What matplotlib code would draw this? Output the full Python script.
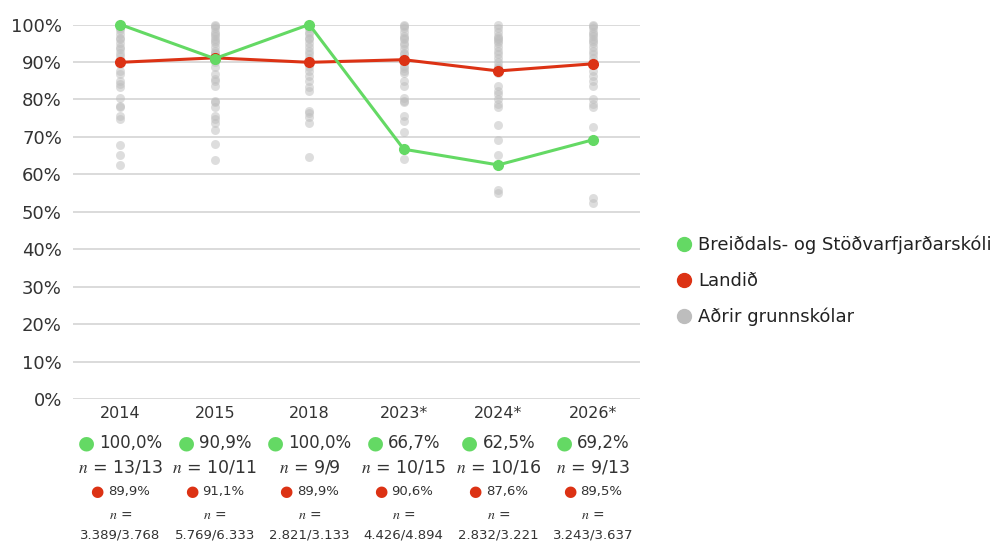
import matplotlib
matplotlib.use('Agg')
import matplotlib.pyplot as plt
import matplotlib.transforms as mtransforms
from matplotlib.lines import Line2D
from matplotlib.offsetbox import TextArea, HPacker, AnnotationBbox

years = ['2014', '2015', '2018', '2023*', '2024*', '2026*']
school = [100.0, 90.9, 100.0, 66.7, 62.5, 69.2]
school_n = ['13/13', '10/11', '9/9', '10/15', '10/16', '9/13']
national = [89.9, 91.1, 89.9, 90.6, 87.6, 89.5]
national_n = ['3.389/3.768', '5.769/6.333', '2.821/3.133', '4.426/4.894', '2.832/3.221', '3.243/3.637']

# other schools, one list per year
others = [
    [100, 99, 98.5, 97.5, 96.5, 96, 95, 94, 93.5, 92.5, 91.5, 90.5, 89.5, 87.7, 86.8, 85, 84.1,
     83.2, 80.5, 78.3, 77.9, 75.6, 74.7, 67.8, 65.1, 62.4],
    [100, 99.5, 99, 98, 97.5, 97, 96, 95.5, 95, 94, 93, 92.5, 92, 91, 90.5, 89.9, 88.6, 86.8,
     85.4, 85, 83.7, 79.6, 79.2, 77.9, 75.6, 74.7, 73.8, 71.9, 68.2, 63.8],
    [100, 99, 98, 97.5, 96.5, 96, 95, 94, 93, 92, 91, 89.5, 88.6, 87.7, 86.3, 85, 83.2, 82.3,
     77, 76.5, 75.2, 73.8, 64.6],
    [100, 99.5, 99, 98, 97, 96.5, 96, 95, 94.5, 93.5, 92.5, 92, 91, 90, 89, 88.5, 87.5, 87,
     85, 83.7, 80.5, 79.6, 79.2, 75.6, 74.3, 71.3, 64.2],
    [100, 99, 98, 97, 96.5, 96, 95.5, 95, 94, 93, 92, 91, 90, 89, 88.5, 88, 87, 83.7, 82.3,
     81.4, 80.1, 78.8, 77.9, 73.1, 69.2, 65.1, 55.9, 55.1],
    [100, 99.5, 99, 98, 97.5, 97, 96, 95.5, 95, 94, 93, 92, 91, 90, 89.5, 87.7, 86.3, 85, 83.7,
     80.1, 78.8, 77.9, 72.5, 53.8, 52.4],
]

GREEN = '#64d964'
RED = '#dc3214'
GRAY = '#bdbdbd'
TXT = '#333333'

plt.rcParams['font.family'] = 'DejaVu Sans'
plt.rcParams['mathtext.fontset'] = 'stix'

fig = plt.figure(figsize=(10.01, 5.45), dpi=100)
ax = fig.add_axes([73 / 1001, 1 - 399 / 545, 567 / 1001, 374.5 / 545])

x = list(range(len(years)))
for i, vals in enumerate(others):
    ax.scatter([i] * len(vals), vals, s=42, color=GRAY, alpha=0.5, linewidths=0,
               clip_on=False, zorder=2)

ax.plot(x, national, color=RED, lw=2.2, marker='o', ms=7, clip_on=False, zorder=3)
ax.plot(x, school, color=GREEN, lw=2.2, marker='o', ms=7, clip_on=False, zorder=4)

ax.set_xlim(-0.5, len(years) - 0.5)
ax.set_ylim(0, 100)
ax.set_yticks(range(0, 101, 10))
ax.set_yticklabels([f'{v}%' for v in range(0, 101, 10)], fontsize=13, color=TXT)
ax.tick_params(axis='y', length=0, pad=8)
ax.set_xticks([])
for s in ax.spines.values():
    s.set_visible(False)
ax.grid(axis='y', color='#d8d8d8', lw=1.3)
ax.set_axisbelow(True)

blend = mtransforms.blended_transform_factory(ax.transData, fig.transFigure)


def row(i, ypix, parts):
    box = HPacker(children=[TextArea(t, textprops=p) for t, p in parts],
                  align='center', pad=0, sep=3)
    ab = AnnotationBbox(box, (i, 1 - ypix / 545), xycoords=('data', 'figure fraction'),
                        box_alignment=(0.5, 0.5), frameon=False, annotation_clip=False)
    ax.add_artist(ab)


for i in x:
    ax.text(i, 1 - 414 / 545, years[i], transform=blend,
            ha='center', va='center', fontsize=11.5, color=TXT)
    row(i, 443, [('●', dict(color=GREEN, fontsize=14)),
                  (f'{school[i]:.1f}'.replace('.', ',') + '%', dict(color=TXT, fontsize=12))])
    row(i, 468, [(f'$n$ = {school_n[i]}', dict(color=TXT, fontsize=12.5))])
    row(i, 492, [('●', dict(color=RED, fontsize=11)),
                  (f'{national[i]:.1f}'.replace('.', ',') + '%', dict(color=TXT, fontsize=9.5))])
    row(i, 515, [('$n$ =', dict(color=TXT, fontsize=10))])
    row(i, 535, [(national_n[i], dict(color=TXT, fontsize=9.5))])

handles = [Line2D([], [], ls='', marker='o', ms=10, color=GREEN),
           Line2D([], [], ls='', marker='o', ms=10, color=RED),
           Line2D([], [], ls='', marker='o', ms=10, color=GRAY)]
labels = ['Breiðdals- og Stöðvarfjarðarskóli', 'Landið', 'Aðrir grunnskólar']
fig.legend(handles, labels, loc='center left', bbox_to_anchor=(668 / 1001, 1 - 281 / 545),
           frameon=False, fontsize=13, labelspacing=0.98, handletextpad=0.25,
           handlelength=1.0, borderaxespad=0, labelcolor='#222222')

fig.savefig('out.png', dpi=100, facecolor='white')
